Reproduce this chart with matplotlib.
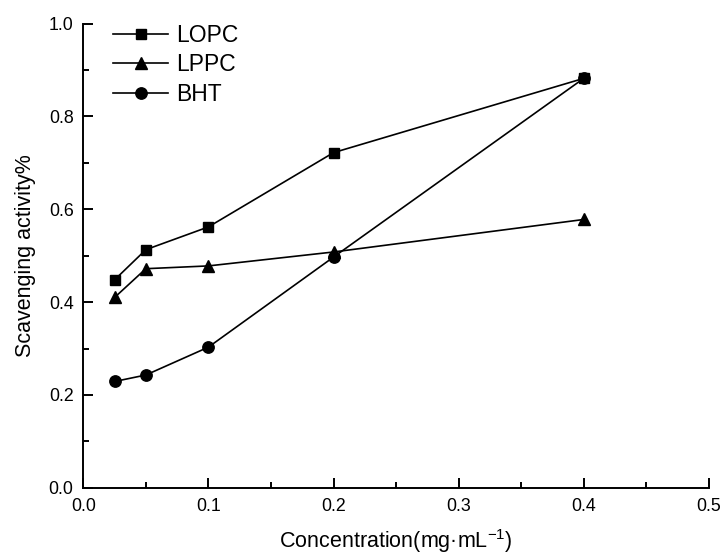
import matplotlib
matplotlib.use("Agg")
from matplotlib import pyplot as plt
from matplotlib.ticker import MultipleLocator

plt.rcParams['font.family'] = ['Liberation Sans', 'DejaVu Sans']
plt.rcParams['mathtext.fontset'] = 'custom'
plt.rcParams['mathtext.rm'] = 'Liberation Sans'

# 数据
conc = [0.025, 0.05, 0.1, 0.2, 0.4]
lopc = [0.448, 0.513, 0.562, 0.722, 0.882]
lppc = [0.410, 0.472, 0.478, 0.508, 0.578]
bht = [0.229, 0.243, 0.303, 0.497, 0.882]

fig = plt.figure(figsize=(7.21, 5.57), dpi=100)
ax = fig.add_axes([83.3 / 721, 1 - 487.8 / 557, 625.5 / 721, 464.2 / 557])

ax.plot(conc, lopc, color="black", lw=1.2, marker="s", ms=7.2, label="LOPC")
ax.plot(conc, lppc, color="black", lw=1.2, marker="^", ms=8.5, label="LPPC")
ax.plot(conc, bht, color="black", lw=1.2, marker="o", ms=8.2, label="BHT")

ax.set_xlim(0, 0.5)
ax.set_ylim(0, 1.0)
ax.xaxis.set_major_locator(MultipleLocator(0.1))
ax.xaxis.set_minor_locator(MultipleLocator(0.05))
ax.yaxis.set_major_locator(MultipleLocator(0.2))
ax.yaxis.set_minor_locator(MultipleLocator(0.1))

ax.spines["top"].set_visible(False)
ax.spines["right"].set_visible(False)
ax.spines["left"].set_linewidth(1.4)
ax.spines["bottom"].set_linewidth(1.4)
ax.tick_params(which="both", direction="in", width=1.4, labelsize=12.8, pad=7)
ax.tick_params(which="major", length=7)
ax.tick_params(which="minor", length=4)

ax.set_xlabel("Concentration(mg·mL$^{\\mathregular{-1}}$)", fontsize=15.5, labelpad=9)
ax.set_ylabel("Scavenging activity%", fontsize=15.5, labelpad=9)

ax.legend(loc="upper left", frameon=False, fontsize=16.5, handlelength=2.4,
          labelspacing=0.3, handletextpad=0.35, borderaxespad=0, borderpad=0,
          bbox_to_anchor=(0.048, 1.0))

fig.savefig("out.png", dpi=100)
